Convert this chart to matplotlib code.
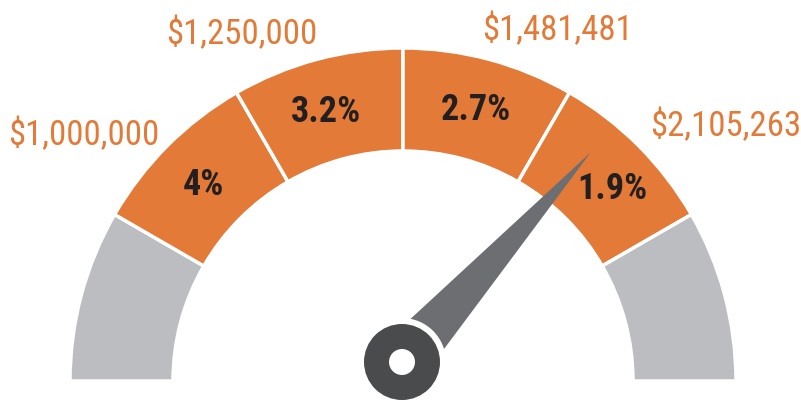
import numpy as np
import matplotlib.pyplot as plt
from matplotlib.patches import Wedge, Circle, Polygon
from matplotlib import font_manager

# gauge bands, left to right (gray ends are unlabeled)
band_labels = ['', '4%', '3.2%', '2.7%', '1.9%', '']
band_colors = ['#BCBDC0', '#E37A37', '#E37A37', '#E37A37', '#E37A37', '#BCBDC0']
price_labels = ['$1,000,000', '$1,250,000', '$1,481,481', '$2,105,263']
needle_deg = 48.0

# pick the narrowest installed family we can find
names = {f.name for f in font_manager.fontManager.ttflist}
fams = [f for f in ['Liberation Sans Narrow', 'Roboto Condensed', 'DejaVu Sans Condensed',
                    'Open Sans Condensed', 'Roboto'] if f in names]
plt.rcParams['font.family'] = fams + ['DejaVu Sans']
stretch = 'condensed'

fig = plt.figure(figsize=(8.01, 4.0), dpi=100)
ax = fig.add_axes([0, 0, 1, 1])
ax.set_xlim(0, 801)
ax.set_ylim(0, 400)
ax.axis('off')

cx, cy = 403, 19
r_out, r_in = 333, 230
step = 180 / len(band_labels)

for i, col in enumerate(band_colors):
    a1 = 180 - i * step
    a0 = a1 - step
    ax.add_patch(Wedge((cx, cy), r_out, a0, a1, width=r_out - r_in,
                       facecolor=col, edgecolor='white', linewidth=2.5))

# percent labels inside the orange bands
pct_pos = [None, (203, 215), (326, 288), (476, 290), (612, 211), None]
for pos, lab in zip(pct_pos, band_labels):
    if lab:
        ax.text(pos[0], pos[1], lab, ha='center', va='center', fontsize=26,
                fontweight='bold', fontstretch=stretch, color='#231F20')

# price labels around the top
price_pos = [(84, 265), (242, 366), (558, 370), (726, 274)]
for (x, y), lab in zip(price_pos, price_labels):
    ax.text(x, y, lab, ha='center', va='center', fontsize=25,
            fontstretch=stretch, color='#E37A37')

# needle
px, py = 402, 38
t = np.radians(needle_deg)
length, half_w = 282, 26
tip = (px + length * np.cos(t), py + length * np.sin(t))
nx, ny = -np.sin(t), np.cos(t)
ax.add_patch(Polygon([(px + half_w * nx, py + half_w * ny), tip,
                      (px - half_w * nx, py - half_w * ny)],
                     closed=True, facecolor='#6D6E71', edgecolor='none'))
ax.add_patch(Circle((px, py), 44, facecolor='white', edgecolor='none'))
ax.add_patch(Circle((px, py), 38, facecolor='#4A4B4D', edgecolor='none'))
ax.add_patch(Circle((px, py), 13, facecolor='white', edgecolor='none'))

fig.savefig('out.png', dpi=100, facecolor='white')
